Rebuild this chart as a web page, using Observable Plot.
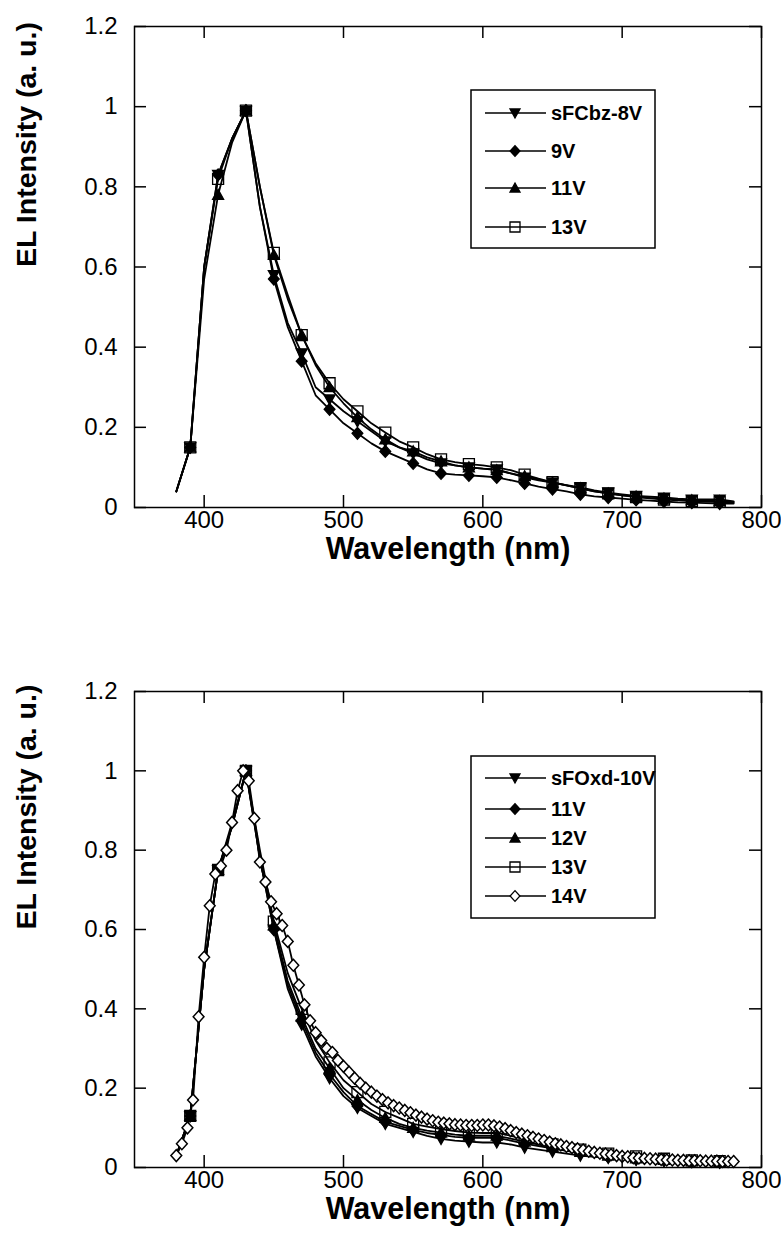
<!DOCTYPE html>
<html>
<head>
<meta charset="utf-8">
<script src="https://cdn.jsdelivr.net/npm/d3@7"></script>
<script src="https://cdn.jsdelivr.net/npm/@observablehq/plot@0.6"></script>
<style>
  html, body { margin: 0; padding: 0; background: #fff; }
  #c { width: 781px; height: 1247px; position: relative; }
  #c svg { display: block; }
</style>
</head>
<body>
<div id="c"></div>
<script>
// ---------- tick labels ----------
const xTicks = [400, 500, 600, 700, 800];
const xTickLabels = ["400", "500", "600", "700", "800"];
const yTicks = [0, 0.2, 0.4, 0.6, 0.8, 1, 1.2];
const yTickLabels = ["0", "0.2", "0.4", "0.6", "0.8", "1", "1.2"];
const xTitle = "Wavelength (nm)";
const yTitle = "EL Intensity (a. u.)";

// ---------- wavelength grids ----------
const wl = [380,390,400,410,420,430,440,450,460,470,480,490,500,510,520,530,540,550,560,570,580,
            590,600,610,620,630,640,650,660,670,680,690,700,710,720,730,740,750,760,770,780];
const wl4 = d3.range(380, 781, 4);
const markerWl = [390,410,430,450,470,490,510,530,550,570,590,610,630,650,670,690,710,730,750,770];

// ---------- top chart: sFCbz ----------
const topNames = ["sFCbz-8V", "9V", "11V", "13V"];
const top8V  = [0.04,0.15,0.60,0.83,0.92,0.99,0.75,0.58,0.46,0.385,0.30,0.27,0.24,0.215,0.19,0.165,0.15,0.135,0.12,0.11,0.105,
                0.10,0.097,0.095,0.085,0.075,0.068,0.062,0.056,0.05,0.043,0.037,0.033,0.029,0.027,0.025,0.022,0.02,0.02,0.02,0.015];
const top9V  = [0.04,0.15,0.60,0.83,0.92,0.99,0.75,0.57,0.45,0.365,0.28,0.245,0.21,0.185,0.16,0.14,0.125,0.11,0.095,0.085,0.082,
                0.08,0.078,0.075,0.068,0.06,0.052,0.046,0.04,0.033,0.028,0.025,0.022,0.019,0.017,0.015,0.013,0.012,0.011,0.01,0.01];
const top11V = [0.04,0.15,0.57,0.78,0.91,0.99,0.80,0.63,0.52,0.43,0.355,0.30,0.26,0.225,0.195,0.17,0.15,0.14,0.125,0.115,0.105,
                0.10,0.097,0.093,0.085,0.078,0.07,0.062,0.055,0.048,0.04,0.035,0.03,0.027,0.024,0.022,0.02,0.018,0.017,0.016,0.014];
const top13V = [0.04,0.15,0.60,0.82,0.92,0.99,0.80,0.635,0.53,0.43,0.36,0.31,0.27,0.24,0.21,0.187,0.165,0.15,0.133,0.12,0.113,
                0.108,0.105,0.10,0.093,0.082,0.072,0.063,0.055,0.048,0.04,0.035,0.03,0.026,0.023,0.02,0.018,0.016,0.015,0.014,0.012];

// ---------- bottom chart: sFOxd ----------
const botNames = ["sFOxd-10V", "11V", "12V", "13V", "14V"];
const bot10V = [0.03,0.13,0.50,0.75,0.86,1.0,0.78,0.60,0.45,0.36,0.28,0.225,0.18,0.15,0.13,0.11,0.10,0.09,0.08,0.072,0.068,
                0.065,0.063,0.063,0.058,0.05,0.045,0.04,0.035,0.03,0.027,0.024,0.021,0.019,0.017,0.016,0.015,0.014,0.013,0.012,0.012];
const bot11V = [0.03,0.13,0.50,0.75,0.86,1.0,0.78,0.60,0.46,0.37,0.29,0.235,0.19,0.155,0.135,0.115,0.105,0.095,0.087,0.082,0.077,
                0.075,0.075,0.075,0.068,0.06,0.054,0.048,0.042,0.036,0.031,0.027,0.024,0.021,0.019,0.018,0.016,0.015,0.014,0.013,0.013];
const bot12V = [0.03,0.13,0.50,0.75,0.86,1.0,0.79,0.61,0.47,0.38,0.30,0.25,0.20,0.17,0.145,0.125,0.11,0.10,0.093,0.088,0.083,
                0.08,0.08,0.08,0.073,0.065,0.058,0.051,0.045,0.039,0.034,0.03,0.026,0.023,0.021,0.019,0.017,0.016,0.015,0.014,0.014];
const bot13V = [0.03,0.13,0.50,0.75,0.87,1.0,0.80,0.62,0.49,0.40,0.32,0.265,0.22,0.19,0.16,0.14,0.125,0.11,0.103,0.097,0.092,
                0.088,0.087,0.087,0.08,0.072,0.065,0.058,0.051,0.045,0.04,0.035,0.031,0.028,0.025,0.022,0.02,0.018,0.017,0.016,0.015];
const bot14V = [0.03,0.06,0.10,0.17,0.38,0.53,0.66,0.74,0.76,0.80,
                0.87,0.95,1.0,0.975,0.88,0.77,0.72,0.67,0.64,0.61,
                0.57,0.51,0.46,0.41,0.37,0.34,0.32,0.30,0.29,0.27,
                0.255,0.24,0.225,0.212,0.20,0.19,0.18,0.171,0.163,0.156,
                0.15,0.144,0.138,0.132,0.127,0.122,0.118,0.114,0.112,0.11,
                0.108,0.107,0.106,0.106,0.106,0.107,0.107,0.105,0.102,0.098,
                0.093,0.088,0.084,0.08,0.076,0.072,0.068,0.064,0.06,0.057,
                0.053,0.05,0.047,0.044,0.041,0.038,0.036,0.034,0.032,0.03,
                0.028,0.027,0.025,0.024,0.023,0.022,0.021,0.02,0.019,0.019,
                0.018,0.018,0.017,0.017,0.017,0.016,0.016,0.016,0.015,0.015,
                0.015];

// ---------- marker shapes ----------
const rad = s => Math.sqrt(s / Math.PI);
const symTriDown = { draw(c, s) { const r = rad(s); c.moveTo(-r, -0.8 * r); c.lineTo(r, -0.8 * r); c.lineTo(0, r); c.closePath(); } };
const symTriUp   = { draw(c, s) { const r = rad(s); c.moveTo(0, -r); c.lineTo(r, 0.8 * r); c.lineTo(-r, 0.8 * r); c.closePath(); } };
const symDiamond = { draw(c, s) { const r = rad(s); c.moveTo(0, -1.08 * r); c.lineTo(0.98 * r, 0); c.lineTo(0, 1.08 * r); c.lineTo(-0.98 * r, 0); c.closePath(); } };
const symSquare  = { draw(c, s) { const r = rad(s) * 1.0; c.moveTo(-r, -r); c.lineTo(r, -r); c.lineTo(r, r); c.lineTo(-r, r); c.closePath(); } };

const FONT = "'Liberation Sans', Arial, Helvetica, sans-serif";
const R = 5.5;

function makeChart({ series, height, mt, mb, legendBox, legendRows }) {
  const W = 781, ml = 134, mr = 20;
  const ph = height - mt - mb, pw = W - ml - mr;
  const tick = 12;
  const marks = [];
  series.forEach(s => {
    const rows = s.wl.map((w, i) => ({ w, v: s.values[i] }));
    marks.push(Plot.line(rows, { x: "w", y: "v", stroke: "black", strokeWidth: 1.8 }));
    const mk = s.every ? rows : rows.filter(d => markerWl.includes(d.w));
    marks.push(Plot.dot(mk, { x: "w", y: "v", symbol: s.symbol, r: R, fill: s.fill, stroke: "black", strokeWidth: s.every ? 1.5 : 1.3 }));
  });
  marks.push(
    Plot.frame({ stroke: "black", strokeWidth: 1.5 }),
    Plot.tickX(xTicks, { x: d => d, insetTop: ph - tick, stroke: "black", strokeWidth: 1.5 }),
    Plot.tickX(xTicks, { x: d => d, insetBottom: ph - tick, stroke: "black", strokeWidth: 1.5 }),
    Plot.tickY(yTicks, { y: d => d, insetRight: pw - tick, stroke: "black", strokeWidth: 1.5 }),
    Plot.tickY(yTicks, { y: d => d, insetLeft: pw - tick, stroke: "black", strokeWidth: 1.5 }),
    Plot.axisX(xTicks, { anchor: "bottom", tickSize: 0, tickPadding: 3, fontSize: 24, label: null,
      tickFormat: d => xTickLabels[xTicks.indexOf(d)] }),
    Plot.axisY(yTicks, { anchor: "left", tickSize: 0, tickPadding: 17, fontSize: 24, label: null,
      tickFormat: d => yTickLabels[yTicks.indexOf(d)] }),
    Plot.text([xTitle], { frameAnchor: "bottom", dy: 42, fontSize: 30.5, fontWeight: "bold", lineAnchor: "middle", fill: "black" }),
    Plot.text([yTitle], { frameAnchor: "left", dx: -108, rotate: -90, fontSize: 28.5, fontWeight: "bold", lineAnchor: "middle", fill: "black" })
  );
  const svg = Plot.plot({
    width: W, height,
    marginTop: mt, marginBottom: mb, marginLeft: ml, marginRight: mr,
    x: { domain: [350, 800], label: null },
    y: { domain: [0, 1.2], label: null },
    style: { fontFamily: FONT, background: "white", color: "black", overflow: "visible" },
    marks
  });
  // legend
  const g = d3.select(svg).append("g").attr("font-family", FONT).attr("text-anchor", "start");
  g.append("rect").attr("x", legendBox.x).attr("y", legendBox.y).attr("width", legendBox.w).attr("height", legendBox.h)
    .attr("fill", "white").attr("stroke", "black").attr("stroke-width", 1.5);
  series.forEach((s, i) => {
    const y = legendRows[i];
    g.append("line").attr("x1", legendBox.x + 14).attr("x2", legendBox.x + 75).attr("y1", y).attr("y2", y)
      .attr("stroke", "black").attr("stroke-width", 1.5);
    g.append("path").attr("transform", `translate(${legendBox.x + 44},${y})`)
      .attr("d", d3.symbol(s.symbol, Math.PI * 5 * 5)())
      .attr("fill", s.fill).attr("stroke", "black").attr("stroke-width", 1.3);
    g.append("text").attr("x", legendBox.x + 80).attr("y", y).attr("dy", "0.36em").attr("text-anchor", "start")
      .attr("font-size", 20).attr("font-weight", "bold").attr("fill", "black").text(s.name);
  });
  return svg;
}

const topSeries = [
  { name: topNames[0], wl, values: top8V,  symbol: symTriDown, fill: "black" },
  { name: topNames[1], wl, values: top9V,  symbol: symDiamond, fill: "black" },
  { name: topNames[2], wl, values: top11V, symbol: symTriUp,   fill: "black" },
  { name: topNames[3], wl, values: top13V, symbol: symSquare,  fill: "none" }
];
const botSeries = [
  { name: botNames[0], wl, values: bot10V, symbol: symTriDown, fill: "black" },
  { name: botNames[1], wl, values: bot11V, symbol: symDiamond, fill: "black" },
  { name: botNames[2], wl, values: bot12V, symbol: symTriUp,   fill: "black" },
  { name: botNames[3], wl, values: bot13V, symbol: symSquare,  fill: "none" },
  { name: botNames[4], wl: wl4, values: bot14V, symbol: symDiamond, fill: "white", every: true }
];

const c = document.getElementById("c");
c.appendChild(makeChart({
  series: topSeries, height: 620, mt: 26, mb: 113,
  legendBox: { x: 471, y: 90, w: 184, h: 158 },
  legendRows: [113, 151, 188, 227]
}));
c.appendChild(makeChart({
  series: botSeries, height: 627, mt: 71, mb: 80,
  legendBox: { x: 471, y: 136, w: 184, h: 162 },
  legendRows: [158, 189, 218, 247, 276]
}));
</script>
</body>
</html>
